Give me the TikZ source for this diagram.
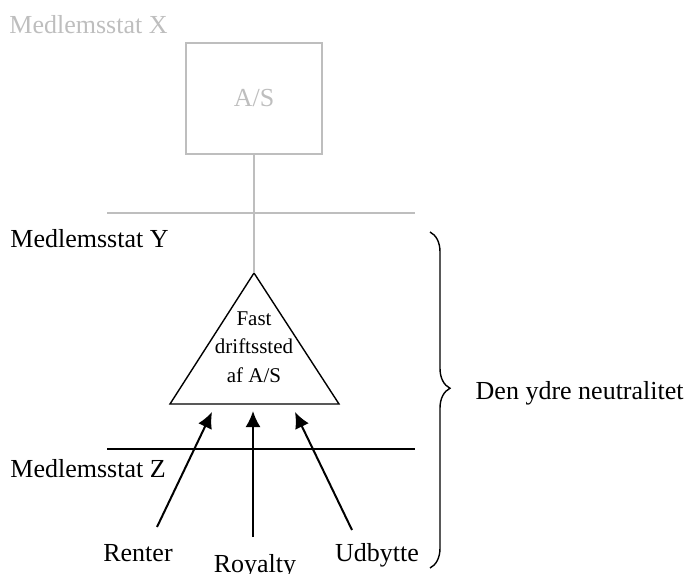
\documentclass[tikz,border=0pt]{standalone}
\usepackage{fontspec}
\setmainfont{Liberation Serif}
\usetikzlibrary{arrows.meta,decorations.pathreplacing}
\definecolor{faint}{RGB}{190,190,190}

\begin{document}
\begin{tikzpicture}[
    , x = 0.5pt
    , y = -0.5pt
    , font = \fontsize{13}{15.6}\selectfont
    , lbl/.style = {
      , inner sep = 0pt
    }
    , border/.style = {
      , line width = 0.7pt
    }
    , flow/.style = {
      , line width = 1pt
      , -{Latex[length = 8pt, width = 7.5pt]}
    }
  ]
    \useasboundingbox (0,0) rectangle (690,573);
    % member state X, greyed out
    \node (lblx) [lbl, anchor = base west, text = faint] at (9,33) {Medlemsstat X};
    \node (as) [draw = faint, border, text = faint, minimum width = 68pt,
      minimum height = 55.5pt] at (254,98.5) {A/S};
    \coordinate (gl) at (107,213);
    \coordinate (gr) at (415,213);
    \draw [faint, border] (gl) -- (gr);
    % member state Y
    \node (lbly) [lbl, anchor = base west] at (10,247) {Medlemsstat Y};
    \coordinate (apex) at (254,273);
    \coordinate (bl) at (170,404);
    \coordinate (br) at (339,404);
    \draw [border, line join = miter] (apex) -- (bl) -- (br) -- cycle;
    \node (pe) [lbl, align = center, font = \fontsize{10.5}{14.3}\selectfont]
      at (254,347) {Fast\\driftssted\\af A/S};
    \draw [faint, border] (as.south) -- (apex);
    % member state Z
    \coordinate (zl) at (107,449);
    \coordinate (zr) at (415,449);
    \draw [border] (zl) -- (zr);
    \node (lblz) [lbl, anchor = base west] at (10,477) {Medlemsstat Z};
    % payments
    \node (renter) [lbl, anchor = base] at (138,561) {Renter};
    \node (royalty) [lbl, anchor = base] at (255,572) {Royalty};
    \node (udbytte) [lbl, anchor = base] at (377,561) {Udbytte};
    \coordinate (rt) at (157,527);
    \coordinate (rh) at (212,412);
    \coordinate (yt) at (253,537);
    \coordinate (yh) at (253,411);
    \coordinate (ut) at (352,530);
    \coordinate (uh) at (295,412);
    \draw [flow] (rt) -- (rh);
    \draw [flow] (yt) -- (yh);
    \draw [flow] (ut) -- (uh);
    % brace
    \coordinate (bt) at (430,232);
    \coordinate (bb) at (430,568);
    \draw [border, decorate, decoration = {brace, amplitude = 10pt, aspect = 0.465}]
      (bt) -- (bb);
    \node (neutral) [lbl, anchor = base east] at (684,399) {Den ydre neutralitet};
  \end{tikzpicture}
\end{document}
